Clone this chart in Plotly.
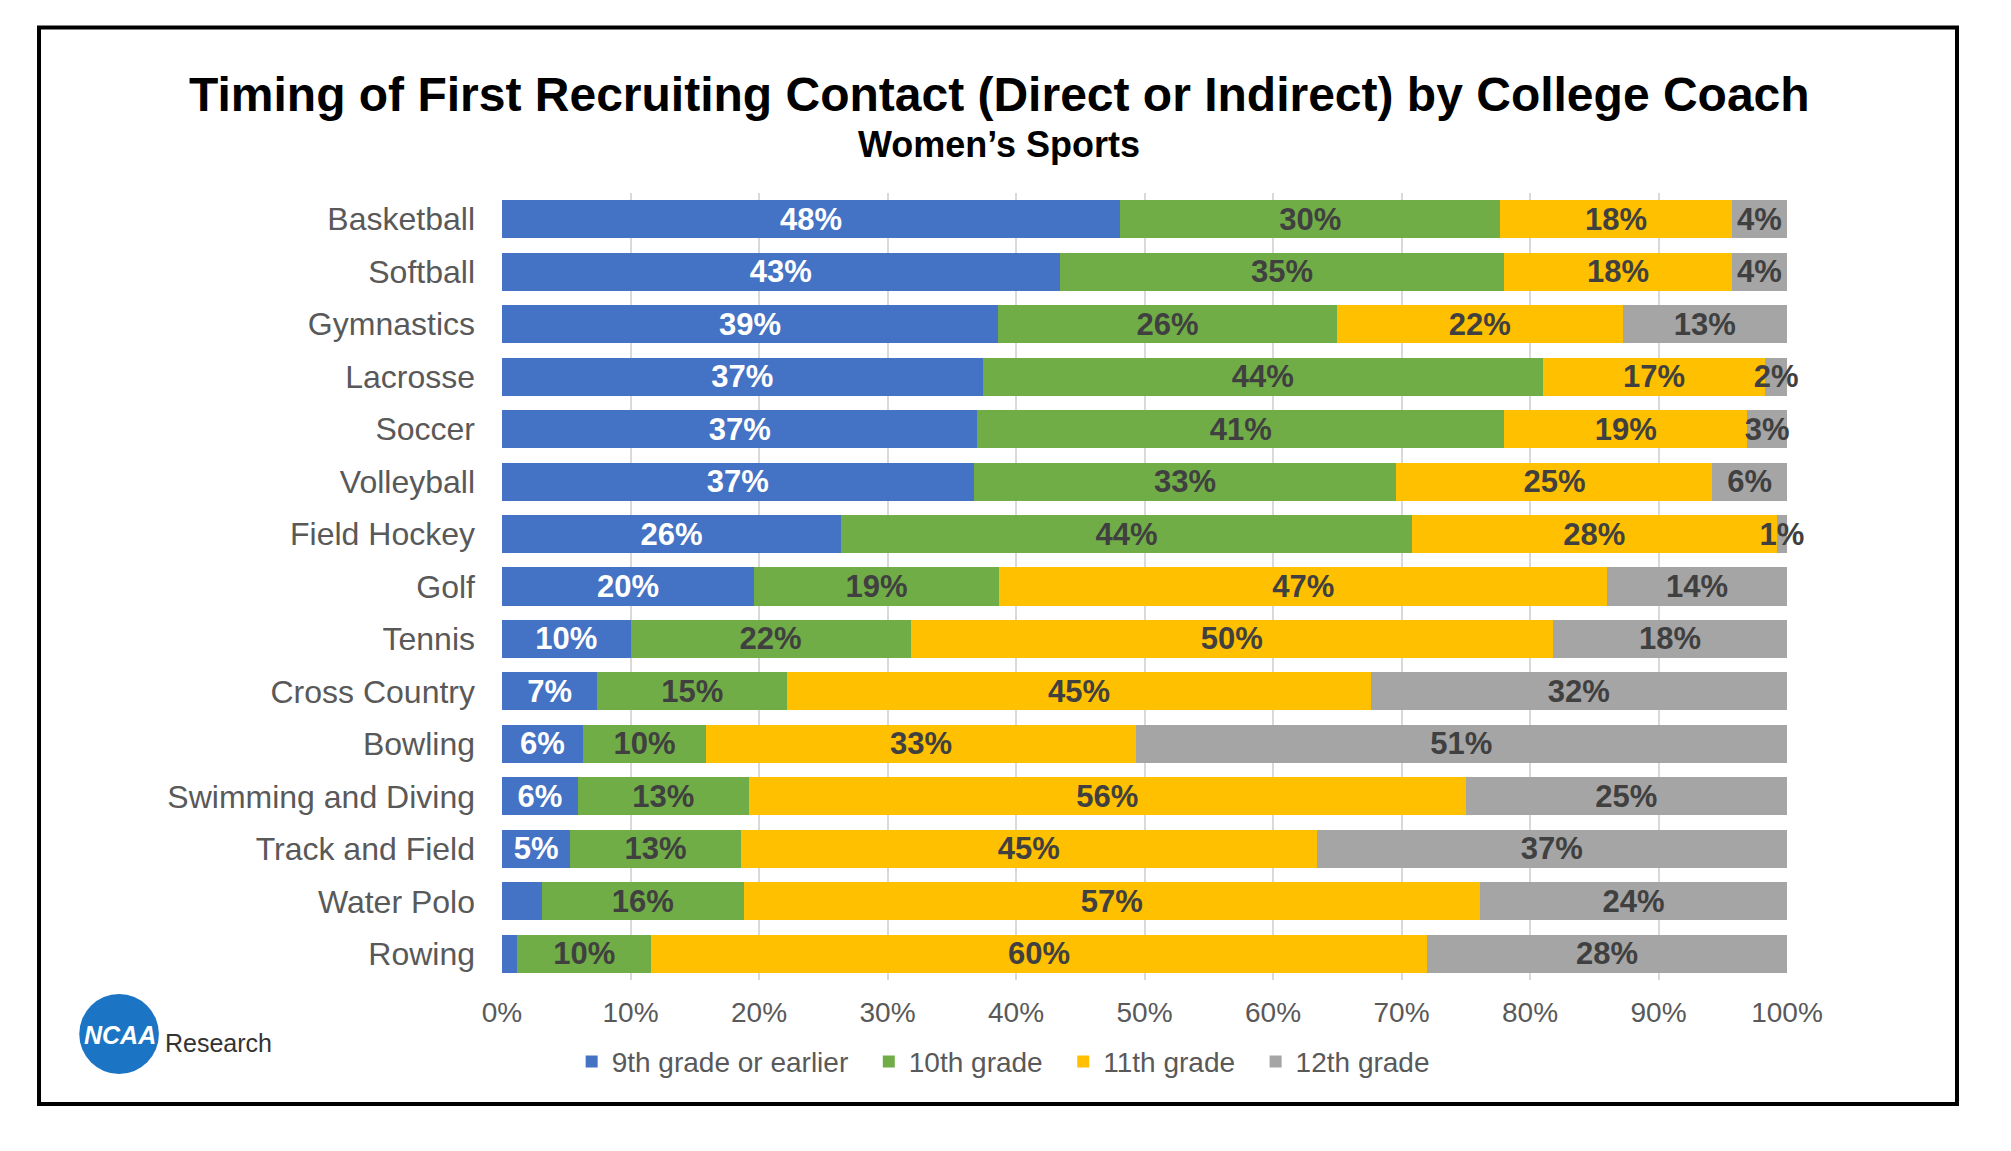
import plotly.graph_objects as go

categories = ["Basketball", "Softball", "Gymnastics", "Lacrosse", "Soccer", "Volleyball",
              "Field Hockey", "Golf", "Tennis", "Cross Country", "Bowling",
              "Swimming and Diving", "Track and Field", "Water Polo", "Rowing"]
grade9 = [48.1, 43.4, 38.6, 37.4, 37.0, 36.7, 26.4, 19.6, 10.0, 7.4, 6.3, 5.9, 5.3, 3.1, 1.2]
grade10 = [29.6, 34.6, 26.4, 43.6, 41.0, 32.9, 44.4, 19.1, 21.8, 14.8, 9.6, 13.3, 13.3, 15.7, 10.4]
grade11 = [18.0, 17.7, 22.2, 17.3, 18.9, 24.6, 28.4, 47.3, 50.0, 45.4, 33.4, 55.8, 44.8, 57.3, 60.4]
grade12 = [4.3, 4.3, 12.8, 1.7, 3.1, 5.8, 0.8, 14.0, 18.2, 32.4, 50.7, 25.0, 36.6, 23.9, 28.0]
series_names = ["9th grade or earlier", "10th grade", "11th grade", "12th grade"]
unlabeled_9th = ["Water Polo", "Rowing"]
x_ticks = [0, 10, 20, 30, 40, 50, 60, 70, 80, 90, 100]
x_ticklabels = ["0%", "10%", "20%", "30%", "40%", "50%", "60%", "70%", "80%", "90%", "100%"]

colors = ["#4472C4", "#70AD47", "#FFC000", "#A5A5A5"]
text_colors = ["#FFFFFF", "#404040", "#404040", "#404040"]
FONT = "Liberation Sans, Arial, sans-serif"
PAD = "\u00a0\u00a0"

fig = go.Figure()
for i, (name, vals) in enumerate(zip(series_names, [grade9, grade10, grade11, grade12])):
    labels = []
    for cat, v in zip(categories, vals):
        if i == 0 and cat in unlabeled_9th:
            labels.append("")
        else:
            labels.append(f"{round(v)}%")
    fig.add_trace(go.Bar(
        y=categories, x=vals, name=name + (PAD if i < 3 else ""), orientation="h",
        marker=dict(color=colors[i], line=dict(width=0)),
        text=labels, textposition="inside", insidetextanchor="middle",
        textangle=0, cliponaxis=False,
        textfont=dict(family=FONT, size=31, color=text_colors[i]),
        texttemplate="<b>%{text}</b>",
        hoverinfo="skip",
    ))

fig.update_layout(
    barmode="stack",
    bargap=0.275,
    width=2003, height=1143,
    margin=dict(l=494, r=224, t=185, b=171, autoexpand=False),
    paper_bgcolor="white", plot_bgcolor="white",
    font=dict(family=FONT, color="#595959"),
    uniformtext=dict(minsize=31, mode="show"),
    showlegend=True,
    legend=dict(orientation="h", x=0.39, xanchor="center", y=-0.104, yanchor="middle",
                font=dict(size=28, color="#595959", family=FONT),
                traceorder="normal", itemwidth=30, bgcolor="rgba(0,0,0,0)"),
    xaxis=dict(range=[0, 100], tickvals=x_ticks, ticktext=x_ticklabels,
               showgrid=True, gridcolor="#D9D9D9", gridwidth=1.5,
               zeroline=False, showline=False, ticks="",
               ticklabelstandoff=13,
               tickfont=dict(size=28, color="#595959", family=FONT)),
    yaxis=dict(categoryorder="array", categoryarray=categories, autorange="reversed",
               showgrid=False, zeroline=False, showline=False, ticks="",
               ticklabelstandoff=26,
               tickfont=dict(size=32, color="#595959", family=FONT)),
)

# Title and subtitle
fig.add_annotation(text="<b>Timing of First Recruiting Contact (Direct or Indirect) by College Coach</b>",
                   xref="paper", yref="paper", x=0.387, y=1.1252, xanchor="center", yanchor="middle",
                   showarrow=False, font=dict(size=48, color="#000000", family=FONT))
fig.add_annotation(text="<b>Women’s Sports</b>",
                   xref="paper", yref="paper", x=0.387, y=1.0617, xanchor="center", yanchor="middle",
                   showarrow=False, font=dict(size=36, color="#000000", family=FONT))

# Border
fig.add_shape(type="rect", xref="paper", yref="paper",
              x0=-0.3603, x1=1.1323, y0=-0.1577, y1=1.2104,
              line=dict(color="#000000", width=4), fillcolor="rgba(0,0,0,0)", layer="above")

# NCAA Research logo
fig.add_shape(type="circle", xref="paper", yref="paper",
              x0=-0.329, x1=-0.267, y0=-0.1195, y1=-0.0178,
              line=dict(width=0), fillcolor="#1B75C4", layer="above")
fig.add_annotation(text="<b><i>NCAA</i></b>", xref="paper", yref="paper",
                   x=-0.2975, y=-0.070, xanchor="center", yanchor="middle", showarrow=False,
                   font=dict(size=25, color="#FFFFFF", family=FONT))
fig.add_annotation(text="Research", xref="paper", yref="paper",
                   x=-0.2635, y=-0.0795, xanchor="left", yanchor="middle", showarrow=False,
                   font=dict(size=25, color="#333333", family=FONT))

fig.write_html("out.html")
